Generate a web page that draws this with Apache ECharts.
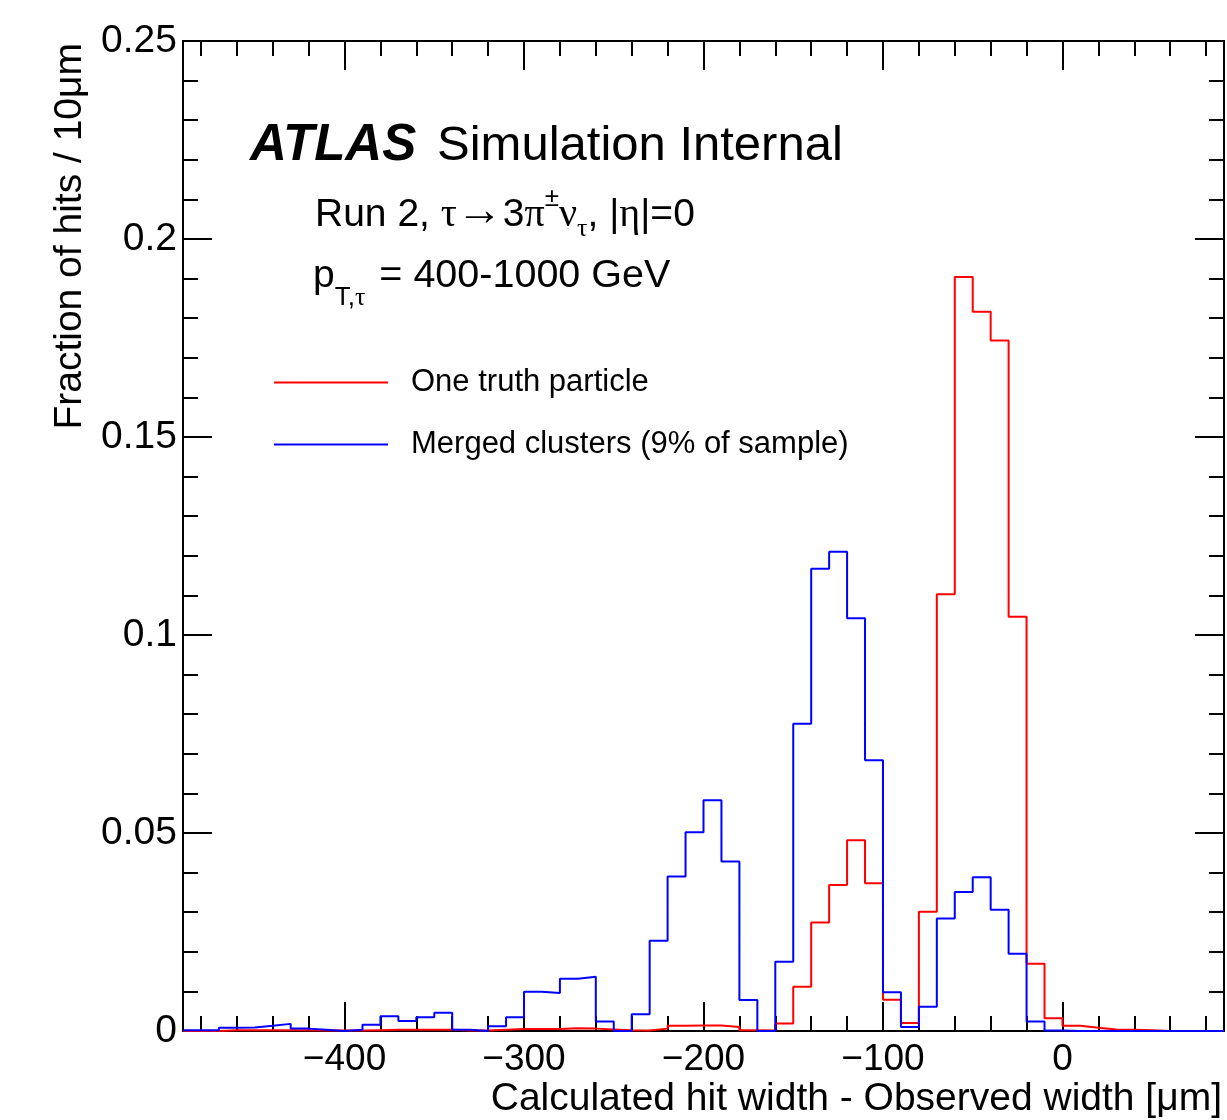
<!DOCTYPE html>
<html>
<head>
<meta charset="utf-8">
<script src="https://cdn.jsdelivr.net/npm/echarts@6/dist/echarts.min.js"></script>
<style>
html, body { margin: 0; padding: 0; background: #fff; }
#chart { width: 1227px; height: 1120px; }
</style>
</head>
<body>
<div id="chart"></div>
<script>
// histogram binning: 10 um bins starting at -490
var binStart = -490;
var binWidth = 10;

// One truth particle (red), one value per bin from -490 to 90
var truthFrac = [
    0.0000, 0.0000, 0.0002, 0.0002, 0.0002, 0.0002, 0.0002, 0.0001, 0.0001, 0.0001,
    0.0002, 0.0003, 0.0003, 0.0003, 0.0003, 0.0001, 0.0001, 0.0003, 0.0005, 0.0005,
    0.0005, 0.0007, 0.0006, 0.0004, 0.0002, 0.0001, 0.0006, 0.0013, 0.0014, 0.0014,
    0.0010, 0.0002, 0.0001, 0.0019, 0.0112, 0.0274, 0.0369, 0.0482, 0.0373, 0.0079,
    0.0020, 0.0301, 0.1103, 0.1904, 0.1816, 0.1744, 0.1046, 0.0170, 0.0032, 0.0013,
    0.0008, 0.0004, 0.0003, 0.0002, 0.0000, 0.0000, 0.0000, 0.0000
];

// Merged clusters (blue)
var mergedFrac = [
    0.0002, 0.0002, 0.0008, 0.0009, 0.0013, 0.0018, 0.0006, 0.0003, 0.0000, 0.0003,
    0.0016, 0.0037, 0.0025, 0.0035, 0.0046, 0.0003, 0.0000, 0.0012, 0.0035, 0.0099,
    0.0096, 0.0132, 0.0137, 0.0024, 0.0000, 0.0042, 0.0228, 0.0390, 0.0502, 0.0583,
    0.0428, 0.0078, 0.0000, 0.0175, 0.0776, 0.1167, 0.1210, 0.1042, 0.0684, 0.0098,
    0.0010, 0.0061, 0.0284, 0.0351, 0.0388, 0.0306, 0.0195, 0.0024, 0.0001, 0.0000,
    0.0000, 0.0000, 0.0000, 0.0000, 0.0000, 0.0000, 0.0000, 0.0000
];

var xMin = -490, xMax = 90;
var xMajor = [-400, -300, -200, -100, 0];
var xMinor = [-480, -460, -440, -420, -380, -360, -340, -320, -280, -260, -240, -220,
              -180, -160, -140, -120, -80, -60, -40, -20, 20, 40, 60, 80];

var seriesNames = ['One truth particle', 'Merged clusters (9% of sample)'];

var FONT = '"Liberation Sans", Arial, Helvetica, sans-serif';
var SERIF = '"Liberation Serif", "Times New Roman", serif';

// turn bin contents into the corner points of a step outline
var stepPoints = function (values) {
    var res = [];
    values.forEach(function (v, i) {
        var lo = binStart + i * binWidth;
        res.push([lo, v]);
        res.push([lo + binWidth, v]);
    });
    return res;
};

var chart = echarts.init(document.getElementById('chart'));

var measureCtx = document.createElement('canvas').getContext('2d');
var textWidth = function (t, font) {
    measureCtx.font = font;
    return measureCtx.measureText(t).width;
};

// lay out a line of TLatex-like text pieces one after another
var latexLine = function (x, y, pieces) {
    var out = [];
    var cx = x;
    pieces.forEach(function (p) {
        var font = (p.style || '') + ' ' + p.size + 'px ' + (p.serif ? SERIF : FONT);
        out.push({
            type: 'text',
            x: cx, y: y + (p.dy || 0),
            silent: true,
            style: { text: p.t, font: font, fill: '#000', textAlign: 'left', textVerticalAlign: 'middle' }
        });
        cx += textWidth(p.t, font) + (p.gap || 0);
    });
    return out;
};

var frameLine = { show: true, onZero: false, lineStyle: { color: '#000', width: 2 } };
var tickStyle = { color: '#000', width: 2 };

var majorAxis = function (pos, labels) {
    return {
        type: 'value', position: pos, min: xMin, max: xMax,
        axisLine: frameLine,
        splitLine: { show: false },
        axisTick: { show: true, inside: true, length: 29, customValues: xMajor, lineStyle: tickStyle },
        axisLabel: {
            show: labels, customValues: xMajor, margin: 10,
            fontFamily: FONT, fontSize: 37, color: '#000',
            formatter: function (v) { return v < 0 ? '\u2212' + (-v) : String(v); }
        }
    };
};
var minorAxis = function (pos) {
    return {
        type: 'value', position: pos, min: xMin, max: xMax,
        axisLine: { show: false, onZero: false },
        splitLine: { show: false },
        axisTick: { show: true, inside: true, length: 15, customValues: xMinor, lineStyle: tickStyle },
        axisLabel: { show: false }
    };
};
var yAxisDef = function (pos, labels) {
    return {
        type: 'value', position: pos, min: 0, max: 0.25, interval: 0.05,
        axisLine: frameLine,
        splitLine: { show: false },
        axisTick: { show: true, inside: true, length: 29, lineStyle: tickStyle },
        minorTick: { show: true, splitNumber: 5, length: 15, lineStyle: tickStyle },
        axisLabel: { show: labels, margin: 6, fontFamily: FONT, fontSize: 39, color: '#000' }
    };
};

var graphics = [
    { type: 'text', x: 250, y: 146, silent: true,
      style: { text: 'ATLAS', font: 'italic bold 51px ' + FONT, fill: '#000', textVerticalAlign: 'middle' } },
    { type: 'text', x: 437, y: 146, silent: true,
      style: { text: 'Simulation Internal', font: '49px ' + FONT, fill: '#000', textVerticalAlign: 'middle' } },
    // x axis title
    { type: 'text', x: 1222, y: 1099, silent: true,
      style: { text: 'Calculated hit width - Observed width [\u03bcm]', font: '39px ' + FONT, fill: '#000',
               textAlign: 'right', textVerticalAlign: 'middle' } },
    // y axis title
    { type: 'text', x: 70, y: 43, rotation: Math.PI / 2, silent: true,
      style: { text: 'Fraction of hits / 10\u03bcm', font: '39px ' + FONT, fill: '#000',
               textAlign: 'right', textVerticalAlign: 'middle' } }
];

graphics = graphics.concat(latexLine(315, 215, [
    { t: 'Run 2, ', size: 39 },
    { t: '\u03c4', size: 40, serif: true },
    { t: '\u2192', size: 46, serif: true, dy: -2 },
    { t: '3', size: 39 },
    { t: '\u03c0', size: 40, serif: true },
    { t: '\u00b1', size: 26, dy: -16 },
    { t: '\u03bd', size: 40, serif: true },
    { t: '\u03c4', size: 26, serif: true, dy: 14 },
    { t: ', |', size: 39 },
    { t: '\u03b7', size: 40, serif: true },
    { t: '|=0', size: 39 }
]));
graphics = graphics.concat(latexLine(313, 276, [
    { t: 'p', size: 39 },
    { t: 'T,', size: 26, dy: 22 },
    { t: '\u03c4', size: 26, serif: true, dy: 22, gap: 14 },
    { t: '= 400-1000 GeV', size: 39.5 }
]));

var option = {
    animation: false,
    backgroundColor: '#fff',
    grid: { left: 183, right: 3, top: 41, bottom: 89, containLabel: false },
    legend: {
        orient: 'vertical', left: 274, top: 367, padding: 0,
        icon: 'rect', itemWidth: 114, itemHeight: 2, itemGap: 31,
        data: seriesNames,
        textStyle: { fontFamily: FONT, fontSize: 31, color: '#000', lineHeight: 31, padding: [0, 0, 0, 18] }
    },
    xAxis: [majorAxis('bottom', true), minorAxis('bottom'), majorAxis('top', false), minorAxis('top')],
    yAxis: [yAxisDef('left', true), yAxisDef('right', false)],
    series: [
        {
            name: seriesNames[0], type: 'line', xAxisIndex: 0, yAxisIndex: 0,
            data: stepPoints(truthFrac), symbol: 'none',
            lineStyle: { color: '#ff0000', width: 2 }, itemStyle: { color: '#ff0000' }
        },
        {
            name: seriesNames[1], type: 'line', xAxisIndex: 0, yAxisIndex: 0,
            data: stepPoints(mergedFrac), symbol: 'none',
            lineStyle: { color: '#0000ff', width: 2 }, itemStyle: { color: '#0000ff' }
        }
    ],
    graphic: graphics
};
chart.setOption(option);
</script>
</body>
</html>
